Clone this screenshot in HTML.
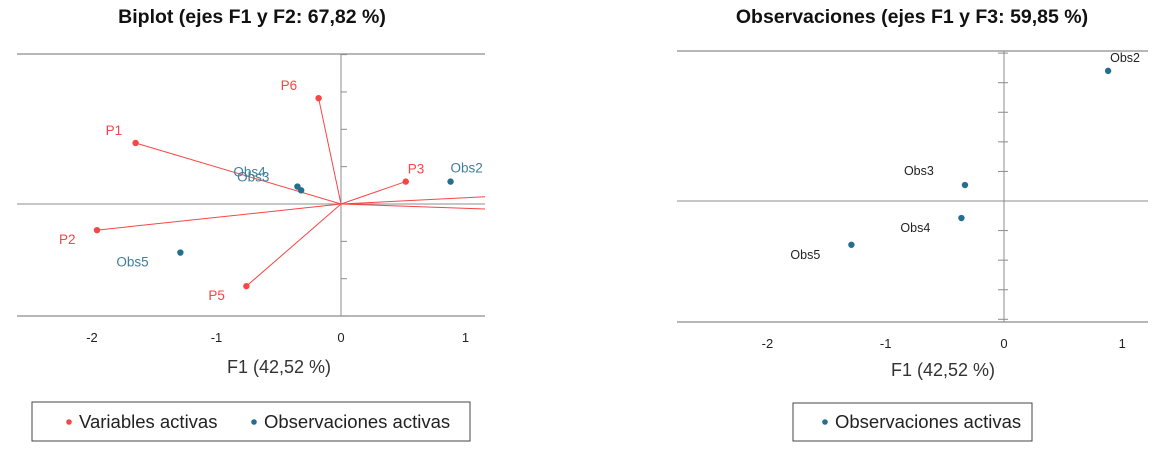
<!DOCTYPE html>
<html><head><meta charset="utf-8">
<style>
body{margin:0;background:#fff;font-family:"Liberation Sans",sans-serif;}
svg{display:block}
</style></head>
<body>
<svg id="chart" width="1171" height="453" xmlns="http://www.w3.org/2000/svg" font-family="Liberation Sans, sans-serif">
</svg>
<script>
// Left biplot data
const varNames = ["P1","P2","P3","P5","P6","P4","P7"];
const varX = [-1.65,-1.96,0.52,-0.76,-0.18,2.0,2.0];
const varY = [0.49,-0.21,0.18,-0.66,0.85,0.1,-0.07];
const obsNames = ["Obs2","Obs3","Obs4","Obs5"];
const obsX = [0.88,-0.32,-0.35,-1.29];
const obsY = [0.18,0.11,0.14,-0.39];
const xTicks = [-2,-1,0,1];
const yTicksL = [-0.9,-0.6,-0.3,0.3,0.6,0.9,1.2];
// Right chart data
const obs3Names = ["Obs2","Obs3","Obs4","Obs5"];
const obs3X = [0.88,-0.33,-0.36,-1.29];
const obs3Y = [1.10,0.135,-0.144,-0.37];
const yTicksR = [-1,-0.75,-0.5,-0.25,0.25,0.5,0.75,1,1.25];

const NS="http://www.w3.org/2000/svg";
const svg=document.getElementById('chart');
function mk(tag,attrs,parent,text){const e=document.createElementNS(NS,tag);for(const k in attrs)e.setAttribute(k,attrs[k]);if(text!==undefined)e.textContent=text;(parent||svg).appendChild(e);return e;}
const RED="#f94545", BLUE="#236f8f", GRAY="#8c8c8c";

const L={x0:17,x1:485,y0:54,y1:316};
const lx=v=>341+v*124.5, ly=v=>204-v*124.5;
const R={x0:677,x1:1148,y0:51,y1:322};
const rx=v=>1004+v*118.3, ry=v=>201-v*118.3;

function frame(P,sx,sy,yt,name,tickSide){
  const g=mk('g',{},svg);
  
  
  mk('line',{x1:P.x0,x2:P.x1,y1:P.y0,y2:P.y0,stroke:GRAY,'stroke-width':1.3},g);
  mk('line',{x1:P.x0,x2:P.x1,y1:P.y1,y2:P.y1,stroke:GRAY,'stroke-width':1.3},g);
  mk('line',{x1:P.x0,x2:P.x1,y1:sy(0),y2:sy(0),stroke:GRAY,'stroke-width':1},g);
  mk('line',{x1:sx(0),x2:sx(0),y1:P.y0,y2:P.y1,stroke:GRAY,'stroke-width':1},g);
  yt.forEach(t=>{const y=sy(t);if(y<P.y0-1||y>P.y1+1)return;
    mk('line',{x1:sx(0)+tickSide[0],x2:sx(0)+tickSide[1],y1:y,y2:y,stroke:GRAY,'stroke-width':1},g);});
  xTicks.forEach(t=>{const x=sx(t);
    const tl=mk('text',{x:x,y:P.y1+26,'text-anchor':'middle','font-size':13,fill:'#222'},g,String(t));
    
    });
}
frame(L,lx,ly,yTicksL,'left',[0,6]);
frame(R,rx,ry,yTicksR,'right',[-6,4]);

let t=mk('text',{x:252,y:23,'text-anchor':'middle','font-size':19.5,'font-weight':'bold',fill:'#111'},svg,'Biplot (ejes F1 y F2: 67,82 %)');

t=mk('text',{x:912,y:23,'text-anchor':'middle','font-size':19.5,'font-weight':'bold',fill:'#111'},svg,'Observaciones (ejes F1 y F3: 59,85 %)');

t=mk('text',{x:279,y:373,'text-anchor':'middle','font-size':18,fill:'#333'},svg,'F1 (42,52 %)');

t=mk('text',{x:943,y:376,'text-anchor':'middle','font-size':18,fill:'#333'},svg,'F1 (42,52 %)');


const defs=mk('defs',{},svg);
const cp=mk('clipPath',{id:'clipL'},defs);
mk('rect',{x:L.x0,y:L.y0,width:L.x1-L.x0,height:L.y1-L.y0},cp);
const gv=mk('g',{'clip-path':'url(#clipL)'},svg);

const varLabOff={P1:[-30,-8],P2:[-38,14],P3:[2,-8],P5:[-38,14],P6:[-38,-8],P4:[4,-8],P7:[4,14]};
varNames.forEach((n,i)=>{
  const x=lx(varX[i]),y=ly(varY[i]);
  const l=mk('line',{x1:lx(0),y1:ly(0),x2:x,y2:y,stroke:RED,'stroke-width':1},gv);
  
  const c=mk('circle',{cx:x,cy:y,r:3.2,fill:RED},gv);
  
  const o=varLabOff[n];
  const tx=mk('text',{x:x+o[0],y:y+o[1],'font-size':13.5,fill:RED},gv,n);
  
});
const obsLabOff={Obs2:[0,-9],Obs3:[-64,-9],Obs4:[-64,-10],Obs5:[-64,14]};
obsNames.forEach((n,i)=>{
  const x=lx(obsX[i]),y=ly(obsY[i]);
  const c=mk('circle',{cx:x,cy:y,r:3.2,fill:BLUE},gv);
  
  const o=obsLabOff[n];
  const tx=mk('text',{x:x+o[0],y:y+o[1],'font-size':13.5,fill:'#3d7f9c'},gv,n);
  
});

const r3Off={Obs2:[2,-9],Obs3:[-61,-10],Obs4:[-61,14],Obs5:[-61,14]};
obs3Names.forEach((n,i)=>{
  const x=rx(obs3X[i]),y=ry(obs3Y[i]);
  const c=mk('circle',{cx:x,cy:y,r:3.2,fill:BLUE},svg);
  
  const o=r3Off[n];
  const tx=mk('text',{x:x+o[0],y:y+o[1],'font-size':12.5,fill:'#222'},svg,n);
  
});

let lg=mk('g',{},svg);
mk('rect',{x:32,y:402,width:438,height:39,fill:'#fff',stroke:'#444','stroke-width':1},lg);
mk('circle',{cx:69,cy:422,r:2.8,fill:RED},lg);
let e=mk('text',{x:79,y:428,'font-size':18.5,fill:'#222'},lg,'Variables activas');

mk('circle',{cx:254,cy:422,r:2.8,fill:BLUE},lg);
e=mk('text',{x:264,y:428,'font-size':18.5,fill:'#222'},lg,'Observaciones activas');

lg=mk('g',{},svg);
mk('rect',{x:793,y:403,width:239,height:38,fill:'#fff',stroke:'#444','stroke-width':1},lg);
mk('circle',{cx:825,cy:422,r:2.8,fill:BLUE},lg);
e=mk('text',{x:835,y:428,'font-size':18.5,fill:'#222'},lg,'Observaciones activas');

</script>
</body></html>
